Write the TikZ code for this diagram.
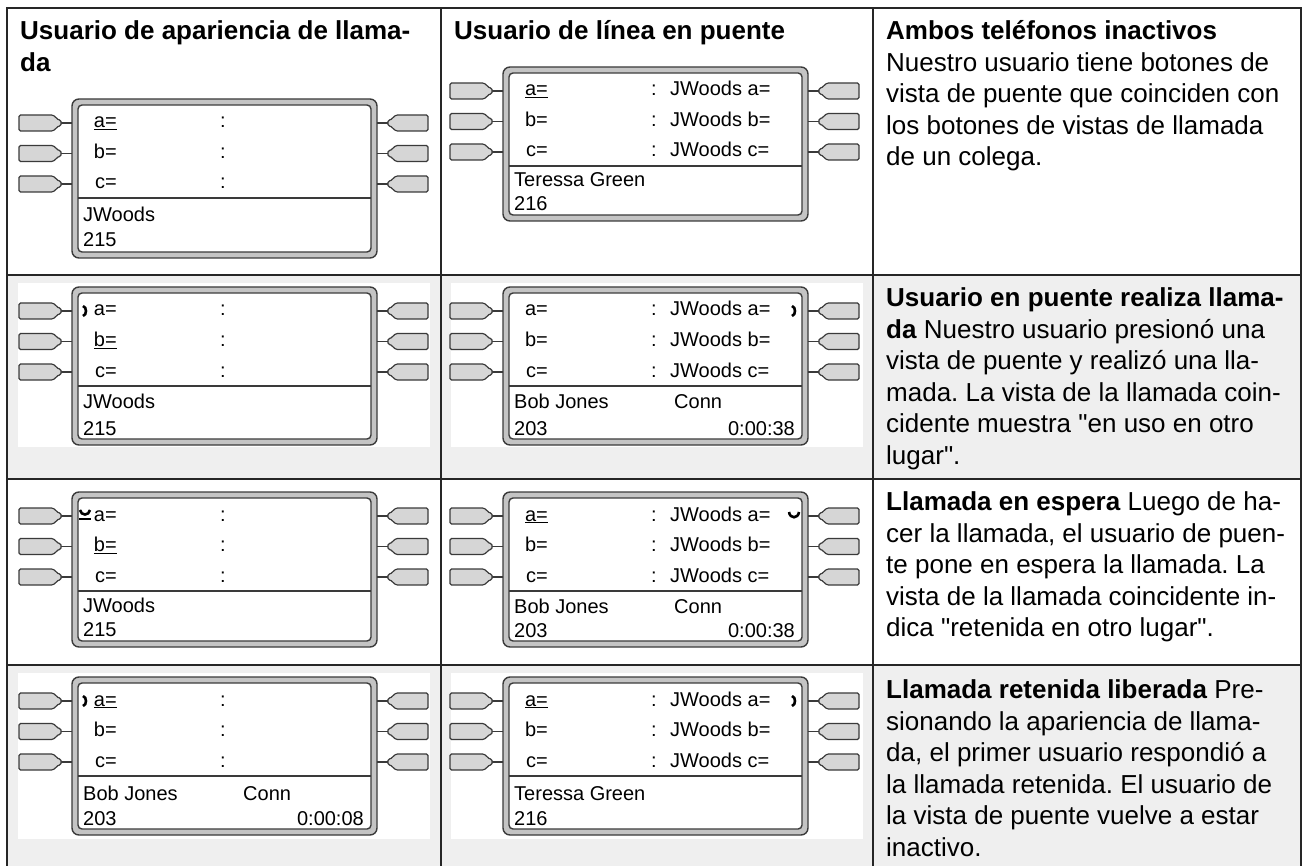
\documentclass[tikz,border=0pt]{standalone}
\usepackage{fontspec}
\setmainfont{Liberation Sans}
\usepackage{tikz}
\frenchspacing

\definecolor{rowgray}{HTML}{EFEFEF}
\definecolor{framegray}{HTML}{C4C4C4}
\definecolor{btngray}{HTML}{D6D6D6}
\definecolor{linegray}{HTML}{3A3A3A}

\tikzset{
  frameline/.style={draw=linegray, line width=1.4pt},
  wire/.style={draw=linegray, line width=1.6pt},
  btn/.style={draw=linegray, fill=btngray, line width=1.2pt, rounded corners=1.5pt},
  hsicon/.style={draw=black, line width=2.6pt},
  disp/.style={inner sep=0pt, font=\fontsize{20}{20}\selectfont},
  desc/.style={inner sep=0pt, anchor=north west, align=left, font=\fontsize{26}{31.5}\selectfont},
  deschead/.style={desc, font=\fontsize{26}{31.5}\selectfont\bfseries},
  grid/.style={draw=black!85, line width=1.5pt}
}

% phone body with double frame and the six side buttons, #1 = height
\newcommand{\phoneframe}[1]{%
  \draw[frameline, fill=framegray, rounded corners=7pt] (0,0) rectangle (305,#1);
  \draw[frameline, fill=white, rounded corners=4pt] (6,6) rectangle (299,{#1-6});
  \draw[frameline] (6,99) -- (299,99);
  \foreach \by in {24,54.5,85} {
    \draw[wire] (-11,\by) -- (0,\by);
    \draw[wire] (305,\by) -- (316,\by);
    \draw[btn] (-53,{\by-8}) -- (-22,{\by-8}) .. controls (-17,{\by-8}) and (-15,{\by-3}) .. (-11,{\by-3})
      -- (-11,{\by+3}) .. controls (-15,{\by+3}) and (-17,{\by+8}) .. (-22,{\by+8}) -- (-53,{\by+8}) -- cycle;
    \draw[btn] (356,{\by-8}) -- (327,{\by-8}) .. controls (322,{\by-8}) and (320,{\by-3}) .. (316,{\by-3})
      -- (316,{\by+3}) .. controls (320,{\by+3}) and (322,{\by+8}) .. (327,{\by+8}) -- (356,{\by+8}) -- cycle;
  }
}

% the three line keys with their colons, #1 = prefix of the node names
\newcommand{\phonekeys}[4]{%
  \node[disp, anchor=base east] (#1a) at (45,29) {#2};
  \node[disp, anchor=base east] (#1b) at (45,59.5) {#3};
  \node[disp, anchor=base east] (#1c) at (45,90) {#4};
  \node[disp, anchor=base] (#1ca) at (151,29) {:};
  \node[disp, anchor=base] (#1cb) at (151,59.5) {:};
  \node[disp, anchor=base] (#1cc) at (151,90) {:};
}

% bridged appearances of the colleague, #1 = prefix
\newcommand{\bridgekeys}[1]{%
  \node[disp, anchor=base west] (#1ra) at (167,29) {JWoods a=};
  \node[disp, anchor=base west] (#1rb) at (167,59.5) {JWoods b=};
  \node[disp, anchor=base west] (#1rc) at (167,90) {JWoods c=};
}

\begin{document}
\begin{tikzpicture}[x=1pt,y=-1pt]
\useasboundingbox (0,0) rectangle (1308,866);

% shaded rows and picture backgrounds
\fill[rowgray] (7,275) rectangle (1301,479);
\fill[rowgray] (7,665) rectangle (1301,866);
\fill[white] (18,283) rectangle (430,447);
\fill[white] (451,283) rectangle (863,447);
\fill[white] (18,673) rectangle (430,839);
\fill[white] (451,673) rectangle (863,839);

% table rules
\draw[grid] (7,866) -- (7,8) -- (1301,8) -- (1301,866);
\draw[grid] (441,8) -- (441,866);
\draw[grid] (873,8) -- (873,866);
\draw[grid] (7,275) -- (1301,275);
\draw[grid] (7,479) -- (1301,479);
\draw[grid] (7,665) -- (1301,665);

% headings
\node[deschead] (hcall) at (20,20.5) {Usuario de apariencia de llama-\\da};
\node[deschead] (hbridge) at (454,20.5) {Usuario de línea en puente};

% row 1: both idle
\begin{scope}[shift={(72,99)}]
\phoneframe{159}
\phonekeys{pa}{\underline{a=}}{b=}{c=}
\node[disp, anchor=base west] (paname) at (11,123) {JWoods};
\node[disp, anchor=base west] (paext) at (11,148) {215};
\end{scope}
\begin{scope}[shift={(503,67)}]
\phoneframe{154}
\phonekeys{pb}{\underline{a=}}{b=}{c=}
\bridgekeys{pb}
\node[disp, anchor=base west] (pbname) at (11,120) {Teressa Green};
\node[disp, anchor=base west] (pbext) at (11,144) {216};
\end{scope}
\node[desc] (tidle) at (886,20.5) {\textbf{Ambos teléfonos inactivos}\\Nuestro usuario tiene botones de\\vista de puente que coinciden con\\los botones de vistas de llamada\\de un colega.};

% row 2: bridged user makes a call
\begin{scope}[shift={(72,287)}]
\phoneframe{158}
\draw[hsicon] (11,19) .. controls (15,20) and (15,28) .. (11,29);
\phonekeys{pc}{a=}{\underline{b=}}{c=}
\node[disp, anchor=base west] (pcname) at (11,121) {JWoods};
\node[disp, anchor=base west] (pcext) at (11,148) {215};
\end{scope}
\begin{scope}[shift={(503,287)}]
\phoneframe{158}
\phonekeys{pd}{a=}{b=}{c=}
\bridgekeys{pd}
\draw[hsicon] (289,19) .. controls (293,20) and (293,28) .. (289,29);
\node[disp, anchor=base west] (pdname) at (11,121) {Bob Jones};
\node[disp, anchor=base west] (pdstate) at (171,121) {Conn};
\node[disp, anchor=base west] (pdext) at (11,148) {203};
\node[disp, anchor=base east] (pdtime) at (292,148) {0:00:38};
\end{scope}
\node[desc] (tcall) at (886,287.5) {\textbf{Usuario en puente realiza llama-}\\\textbf{da} Nuestro usuario presionó una\\vista de puente y realizó una lla-\\mada. La vista de la llamada coin-\\cidente muestra \textquotedbl en uso en otro\\lugar\textquotedbl.};

% row 3: call on hold
\begin{scope}[shift={(72,492)}]
\phoneframe{155}
\draw[hsicon] (8,18) .. controls (9,24) and (17,24) .. (18,18);
\draw[line width=1.4pt] (7,27) -- (19,27);
\phonekeys{pe}{a=}{\underline{b=}}{c=}
\node[disp, anchor=base west] (pename) at (11,120) {JWoods};
\node[disp, anchor=base west] (peext) at (11,144) {215};
\end{scope}
\begin{scope}[shift={(503,492)}]
\phoneframe{155}
\phonekeys{pf}{\underline{a=}}{b=}{c=}
\bridgekeys{pf}
\draw[hsicon] (286,20) .. controls (287,27) and (295,27) .. (296,20);
\node[disp, anchor=base west] (pfname) at (11,121) {Bob Jones};
\node[disp, anchor=base west] (pfstate) at (171,121) {Conn};
\node[disp, anchor=base west] (pfext) at (11,145) {203};
\node[disp, anchor=base east] (pftime) at (292,145) {0:00:38};
\end{scope}
\node[desc] (thold) at (886,491.5) {\textbf{Llamada en espera} Luego de ha-\\cer la llamada, el usuario de puen-\\te pone en espera la llamada. La\\vista de la llamada coincidente in-\\dica \textquotedbl retenida en otro lugar\textquotedbl.};

% row 4: held call picked up
\begin{scope}[shift={(72,677)}]
\phoneframe{158}
\draw[hsicon] (11,19) .. controls (15,20) and (15,28) .. (11,29);
\phonekeys{pg}{\underline{a=}}{b=}{c=}
\node[disp, anchor=base west] (pgname) at (11,123) {Bob Jones};
\node[disp, anchor=base west] (pgstate) at (171,123) {Conn};
\node[disp, anchor=base west] (pgext) at (11,148) {203};
\node[disp, anchor=base east] (pgtime) at (292,148) {0:00:08};
\end{scope}
\begin{scope}[shift={(503,677)}]
\phoneframe{158}
\phonekeys{ph}{\underline{a=}}{b=}{c=}
\bridgekeys{ph}
\draw[hsicon] (289,19) .. controls (293,20) and (293,28) .. (289,29);
\node[disp, anchor=base west] (phname) at (11,123) {Teressa Green};
\node[disp, anchor=base west] (phext) at (11,148) {216};
\end{scope}
\node[desc] (tfree) at (886,679.5) {\textbf{Llamada retenida liberada} Pre-\\sionando la apariencia de llama-\\da, el primer usuario respondió a\\la llamada retenida. El usuario de\\la vista de puente vuelve a estar\\inactivo.};
\end{tikzpicture}
\end{document}
